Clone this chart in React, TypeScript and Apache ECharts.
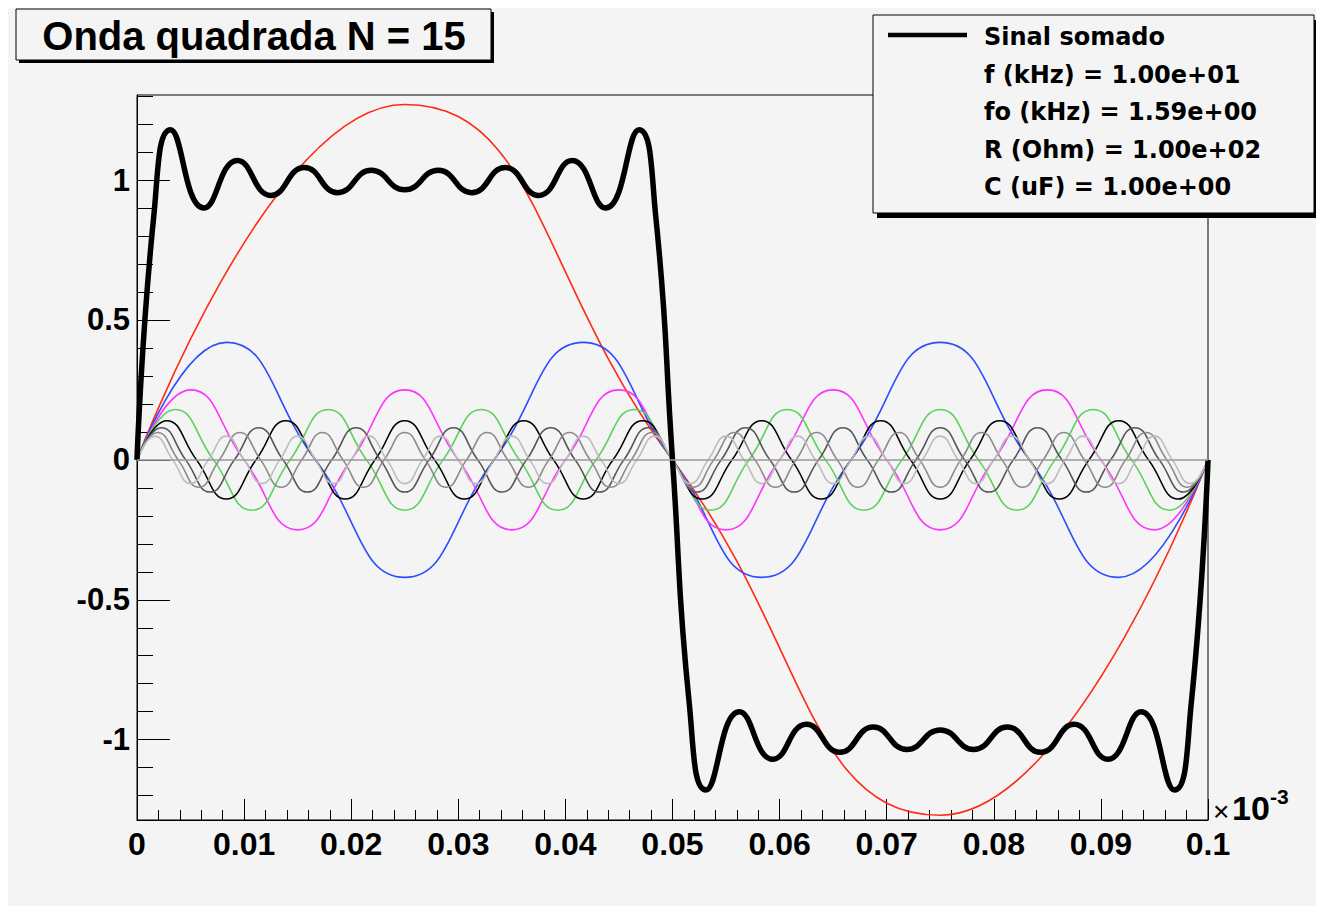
import React, { useEffect, useRef } from "react";
import * as echarts from "echarts";

// Harmonic orders of the Fourier series (odd harmonics up to N = 15)
const harmonicOrders = [1, 3, 5, 7, 9, 11, 13, 15];

// Each harmonic sampled every quarter of its own period over 0 .. 0.1 (x 10^-3)
const h1 = [0, 1.27, 0, -1.27, 0];
const h3 = [0, 0.42, 0, -0.42, 0, 0.42, 0, -0.42, 0, 0.42, 0, -0.42, 0];
const h5 = [
  0, 0.25, 0, -0.25, 0, 0.25, 0, -0.25, 0, 0.25, 0, -0.25, 0, 0.25, 0, -0.25, 0, 0.25, 0, -0.25, 0,
];
const h7 = [
  0, 0.18, 0, -0.18, 0, 0.18, 0, -0.18, 0, 0.18, 0, -0.18, 0, 0.18, 0, -0.18, 0, 0.18, 0, -0.18,
  0, 0.18, 0, -0.18, 0, 0.18, 0, -0.18, 0,
];
const h9 = [
  0, 0.14, 0, -0.14, 0, 0.14, 0, -0.14, 0, 0.14, 0, -0.14, 0, 0.14, 0, -0.14, 0, 0.14, 0, -0.14,
  0, 0.14, 0, -0.14, 0, 0.14, 0, -0.14, 0, 0.14, 0, -0.14, 0, 0.14, 0, -0.14, 0,
];
const h11 = [
  0, 0.115, 0, -0.115, 0, 0.115, 0, -0.115, 0, 0.115, 0, -0.115, 0, 0.115, 0, -0.115, 0, 0.115, 0, -0.115,
  0, 0.115, 0, -0.115, 0, 0.115, 0, -0.115, 0, 0.115, 0, -0.115, 0, 0.115, 0, -0.115, 0, 0.115, 0, -0.115,
  0, 0.115, 0, -0.115, 0,
];
const h13 = [
  0, 0.098, 0, -0.098, 0, 0.098, 0, -0.098, 0, 0.098, 0, -0.098, 0, 0.098, 0, -0.098, 0, 0.098, 0, -0.098,
  0, 0.098, 0, -0.098, 0, 0.098, 0, -0.098, 0, 0.098, 0, -0.098, 0, 0.098, 0, -0.098, 0, 0.098, 0, -0.098,
  0, 0.098, 0, -0.098, 0, 0.098, 0, -0.098, 0, 0.098, 0, -0.098, 0,
];
const h15 = [
  0, 0.085, 0, -0.085, 0, 0.085, 0, -0.085, 0, 0.085, 0, -0.085, 0, 0.085, 0, -0.085, 0, 0.085, 0, -0.085,
  0, 0.085, 0, -0.085, 0, 0.085, 0, -0.085, 0, 0.085, 0, -0.085, 0, 0.085, 0, -0.085, 0, 0.085, 0, -0.085,
  0, 0.085, 0, -0.085, 0, 0.085, 0, -0.085, 0, 0.085, 0, -0.085, 0, 0.085, 0, -0.085, 0, 0.085, 0, -0.085,
  0,
];
const harmonicValues = [h1, h3, h5, h7, h9, h11, h13, h15];
const harmonicColors = ["#ff2a14", "#2d4dff", "#ff30ff", "#5ad25a", "#000000", "#555555", "#8a8a8a", "#bdbdbd"];

// Summed signal ("Sinal somado"): turning points and crossings
const sumX = [
  0, 0.0015625, 0.003125, 0.00625, 0.009375, 0.0125, 0.015625, 0.01875, 0.021875, 0.025,
  0.028125, 0.03125, 0.034375, 0.0375, 0.040625, 0.04375, 0.046875, 0.0484375, 0.05,
  0.0515625, 0.053125, 0.05625, 0.059375, 0.0625, 0.065625, 0.06875, 0.071875, 0.075,
  0.078125, 0.08125, 0.084375, 0.0875, 0.090625, 0.09375, 0.096875, 0.0984375, 0.1,
];
const sumY = [
  0, 0.87, 1.18, 0.9, 1.07, 0.945, 1.045, 0.955, 1.035, 0.965,
  1.035, 0.955, 1.045, 0.945, 1.07, 0.9, 1.18, 0.87, 0,
  -0.87, -1.18, -0.9, -1.07, -0.945, -1.045, -0.955, -1.035, -0.965,
  -1.035, -0.955, -1.045, -0.945, -1.07, -0.9, -1.18, -0.87, 0,
];

const xMin = 0;
const xMax = 0.1;
const xInterval = 0.01;
const yMin = -1.287;
const yMax = 1.304;
const yMajorTicks = [-1, -0.5, 0, 0.5, 1];
const yMinorTicks = [
  -1.2, -1.1, -0.9, -0.8, -0.7, -0.6, -0.4, -0.3, -0.2, -0.1,
  0.1, 0.2, 0.3, 0.4, 0.6, 0.7, 0.8, 0.9, 1.1, 1.2, 1.3,
];

const titleText = "Onda quadrada N = 15";
const legendLabel = "Sinal somado";
const legendInfo = [
  "f (kHz) = 1.00e+01",
  "fo (kHz) = 1.59e+00",
  "R (Ohm) = 1.00e+02",
  "C (uF) = 1.00e+00",
];

const BG = "#f4f4f4";
const FONT = "'Liberation Sans', Arial, Helvetica, sans-serif";

export default function App() {
  const ref = useRef<HTMLDivElement>(null);

  useEffect(() => {
    const chart = echarts.init(ref.current!, null, { renderer: "svg" });

    const harmonicSeries: any[] = harmonicValues.map((vals, i) => {
      const step = (xMax - xMin) / (4 * harmonicOrders[i]);
      const color = harmonicColors[i];
      return {
        type: "line",
        name: "n = " + harmonicOrders[i],
        data: vals.map((v, k) => [xMin + k * step, v]),
        smooth: true,
        showSymbol: false,
        symbol: "none",
        silent: true,
        lineStyle: { color, width: 1.6 },
        itemStyle: { color },
        z: 3,
      };
    });

    const option: any = {
      animation: false,
      backgroundColor: BG,
      grid: {
        left: 129,
        top: 87,
        width: 1071,
        height: 725,
        show: true,
        borderColor: "#000",
        borderWidth: 1,
        backgroundColor: "transparent",
        containLabel: false,
      },
      xAxis: {
        type: "value",
        min: xMin,
        max: xMax,
        interval: xInterval,
        axisLine: { show: true, onZero: false, lineStyle: { color: "#000", width: 1 } },
        axisTick: { show: true, inside: true, length: 21, lineStyle: { color: "#000", width: 1 } },
        minorTick: { show: true, splitNumber: 5, length: 10, lineStyle: { color: "#000", width: 1 } },
        splitLine: { show: false },
        minorSplitLine: { show: false },
        axisLabel: {
          color: "#000",
          fontFamily: FONT,
          fontWeight: "bold",
          fontSize: 32,
          margin: 8,
          formatter: (v: number) => String(Number(v.toFixed(2))),
        },
      },
      yAxis: [
        {
          type: "value",
          min: yMin,
          max: yMax,
          position: "left",
          axisLine: { show: true, onZero: false, lineStyle: { color: "#000", width: 1 } },
          axisTick: {
            show: true,
            inside: true,
            length: 33,
            customValues: yMajorTicks,
            lineStyle: { color: "#000", width: 1 },
          },
          splitLine: { show: false },
          axisLabel: {
            color: "#000",
            fontFamily: FONT,
            fontWeight: "bold",
            fontSize: 31,
            margin: 7,
            customValues: yMajorTicks,
            formatter: (v: number) => String(Number(v.toFixed(2))),
          },
        },
        {
          type: "value",
          min: yMin,
          max: yMax,
          position: "left",
          offset: 0,
          axisLine: { show: false },
          axisTick: {
            show: true,
            inside: true,
            length: 16,
            customValues: yMinorTicks,
            lineStyle: { color: "#000", width: 1 },
          },
          splitLine: { show: false },
          axisLabel: { show: false },
        },
      ],
      series: [
        {
          type: "line",
          name: "zero",
          data: [],
          silent: true,
          z: 1,
          markLine: {
            silent: true,
            symbol: ["none", "none"],
            label: { show: false },
            lineStyle: { color: "#9a9a9a", width: 1.5, type: "solid" },
            data: [{ yAxis: 0 }],
          },
        },
        ...harmonicSeries,
        {
          type: "line",
          name: legendLabel,
          data: sumX.map((x, i) => [x, sumY[i]]),
          smooth: true,
          showSymbol: false,
          symbol: "none",
          silent: true,
          lineStyle: { color: "#000", width: 5.5 },
          itemStyle: { color: "#000" },
          z: 4,
        },
      ],
      graphic: [
        // Title box
        { type: "rect", z: 100, shape: { x: 11, y: 4, width: 475, height: 51 }, style: { fill: "#000" } },
        {
          type: "rect",
          z: 101,
          shape: { x: 8, y: 1, width: 475, height: 51 },
          style: { fill: BG, stroke: "#000", lineWidth: 1 },
        },
        {
          type: "text",
          z: 102,
          x: 246,
          y: 28,
          style: {
            text: titleText,
            fill: "#000",
            font: "bold 40px " + FONT,
            align: "center",
            verticalAlign: "middle",
          },
        },
        // Legend box
        { type: "rect", z: 100, shape: { x: 869, y: 12, width: 441, height: 198 }, style: { fill: "#000" } },
        {
          type: "rect",
          z: 101,
          shape: { x: 865, y: 7, width: 441, height: 198 },
          style: { fill: BG, stroke: "#000", lineWidth: 1 },
        },
        {
          type: "line",
          z: 102,
          shape: { x1: 880, y1: 27, x2: 959, y2: 27 },
          style: { stroke: "#000", lineWidth: 4.5 },
        },
        {
          type: "text",
          z: 102,
          x: 976,
          y: 29,
          style: {
            text: legendLabel,
            fill: "#000",
            font: "bold 24px 'DejaVu Sans', sans-serif",
            align: "left",
            verticalAlign: "middle",
          },
        },
        ...legendInfo.map((t, i) => ({
          type: "text",
          z: 102,
          x: 976,
          y: 66.5 + i * 37.5,
          style: {
            text: t,
            fill: "#000",
            font: "bold 24px 'DejaVu Sans', sans-serif",
            align: "left",
            verticalAlign: "middle",
          },
        })),
        // Axis exponent  x10^-3
        {
          type: "text",
          z: 102,
          x: 1205,
          y: 803,
          style: {
            text: "×",
            fill: "#000",
            font: "28px " + FONT,
            align: "left",
            verticalAlign: "middle",
          },
        },
        {
          type: "text",
          z: 102,
          x: 1224,
          y: 800,
          style: {
            text: "10",
            fill: "#000",
            font: "bold 34px " + FONT,
            align: "left",
            verticalAlign: "middle",
          },
        },
        {
          type: "text",
          z: 102,
          x: 1262,
          y: 788,
          style: {
            text: "-3",
            fill: "#000",
            font: "bold 21px " + FONT,
            align: "left",
            verticalAlign: "middle",
          },
        },
      ],
    };

    chart.setOption(option);
    return () => chart.dispose();
  }, []);

  return <div ref={ref} style={{ width: 1316, height: 898 }} />;
}
